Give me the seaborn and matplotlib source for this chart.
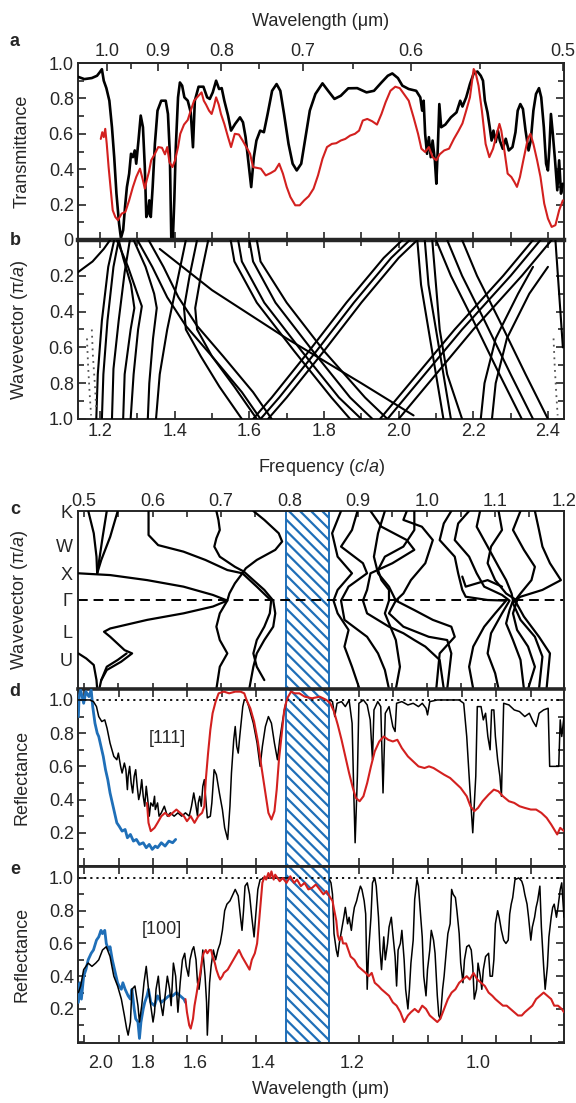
import numpy as np
import pandas as pd
import matplotlib
matplotlib.use("Agg")
import matplotlib.pyplot as plt
import seaborn as sns
from matplotlib.ticker import MultipleLocator, FixedLocator, FormatStrFormatter

# ------------------------------------------------------------------ data
# (a) transmittance versus frequency (c/a)
a_black_f = [1.141,1.158,1.178,1.192,1.199,1.205,1.210,1.217,1.225,1.232,1.238,1.244,1.251,1.256,1.262,1.267,1.272,1.278,1.283,1.288,1.293,1.297,1.303,1.309,1.315,1.320,1.324,1.328,1.332,1.336,1.341,1.347,1.354,1.364,1.376,1.382,1.387,1.391,1.395,1.399,1.403,1.409,1.414,1.420,1.426,1.435,1.443,1.449,1.454,1.464,1.477,1.487,1.494,1.502,1.511,1.519,1.526,1.533,1.543,1.551,1.562,1.575,1.583,1.590,1.598,1.605,1.612,1.619,1.629,1.639,1.649,1.661,1.673,1.683,1.693,1.705,1.716,1.727,1.739,1.749,1.762,1.777,1.796,1.811,1.828,1.845,1.865,1.889,1.914,1.934,1.954,1.971,1.983,1.998,2.010,2.027,2.047,2.058,2.063,2.067,2.071,2.076,2.081,2.086,2.091,2.097,2.101,2.105,2.109,2.114,2.125,2.140,2.155,2.165,2.171,2.181,2.191,2.201,2.211,2.220,2.226,2.231,2.238,2.244,2.249,2.254,2.260,2.266,2.271,2.279,2.287,2.295,2.305,2.313,2.319,2.326,2.333,2.340,2.348,2.354,2.361,2.368,2.376,2.382,2.389,2.395,2.400,2.404,2.408,2.413,2.419,2.425,2.430,2.435,2.440]
a_black_t = [0.922,0.909,0.915,0.928,0.947,0.965,0.900,0.858,0.787,0.637,0.468,0.262,0.093,0.010,0.056,0.187,0.299,0.374,0.487,0.468,0.506,0.431,0.562,0.703,0.637,0.412,0.130,0.149,0.224,0.130,0.299,0.543,0.731,0.787,0.787,0.712,0.487,0.0,0.0,0.224,0.524,0.806,0.890,0.872,0.806,0.787,0.721,0.524,0.787,0.866,0.866,0.806,0.797,0.834,0.900,0.853,0.858,0.787,0.703,0.618,0.656,0.693,0.665,0.581,0.431,0.299,0.468,0.562,0.618,0.609,0.712,0.843,0.881,0.843,0.712,0.543,0.431,0.393,0.431,0.562,0.731,0.825,0.885,0.843,0.797,0.815,0.857,0.858,0.834,0.843,0.890,0.928,0.941,0.915,0.872,0.853,0.843,0.806,0.731,0.787,0.600,0.487,0.581,0.468,0.562,0.450,0.318,0.525,0.768,0.637,0.652,0.693,0.721,0.787,0.754,0.806,0.881,0.941,0.952,0.928,0.900,0.787,0.721,0.637,0.562,0.618,0.553,0.618,0.562,0.515,0.572,0.506,0.525,0.609,0.731,0.768,0.740,0.618,0.506,0.562,0.731,0.825,0.858,0.806,0.637,0.431,0.393,0.525,0.712,0.600,0.450,0.281,0.450,0.262,0.318]
a_red_f = [1.202,1.206,1.210,1.214,1.218,1.223,1.229,1.234,1.241,1.248,1.258,1.268,1.278,1.288,1.297,1.307,1.315,1.320,1.325,1.331,1.337,1.347,1.356,1.366,1.374,1.380,1.386,1.394,1.401,1.409,1.415,1.425,1.435,1.443,1.452,1.464,1.472,1.478,1.484,1.492,1.499,1.505,1.511,1.518,1.524,1.533,1.543,1.551,1.561,1.572,1.582,1.592,1.602,1.610,1.619,1.631,1.644,1.657,1.669,1.680,1.690,1.700,1.710,1.723,1.735,1.747,1.759,1.772,1.784,1.796,1.808,1.821,1.833,1.845,1.857,1.870,1.883,1.894,1.904,1.916,1.929,1.942,1.954,1.965,1.978,1.991,2.003,2.014,2.027,2.040,2.052,2.061,2.071,2.081,2.091,2.101,2.110,2.122,2.135,2.148,2.160,2.171,2.181,2.191,2.197,2.201,2.206,2.214,2.223,2.233,2.243,2.253,2.263,2.270,2.275,2.282,2.292,2.302,2.310,2.317,2.325,2.334,2.346,2.353,2.361,2.371,2.380,2.390,2.400,2.410,2.420,2.430,2.440]
a_red_t = [0.571,0.609,0.581,0.628,0.543,0.412,0.281,0.168,0.130,0.112,0.149,0.159,0.224,0.299,0.356,0.403,0.337,0.290,0.337,0.384,0.450,0.487,0.525,0.521,0.484,0.525,0.440,0.412,0.450,0.525,0.600,0.652,0.678,0.731,0.787,0.815,0.834,0.787,0.765,0.731,0.712,0.753,0.806,0.765,0.712,0.656,0.581,0.525,0.600,0.596,0.562,0.525,0.487,0.412,0.408,0.403,0.365,0.378,0.393,0.431,0.375,0.300,0.243,0.196,0.196,0.224,0.247,0.290,0.365,0.459,0.525,0.543,0.547,0.562,0.571,0.590,0.600,0.618,0.675,0.684,0.671,0.652,0.712,0.778,0.843,0.866,0.858,0.825,0.787,0.693,0.600,0.516,0.497,0.525,0.468,0.450,0.484,0.506,0.516,0.571,0.615,0.659,0.731,0.806,0.900,0.966,0.947,0.872,0.731,0.543,0.468,0.516,0.600,0.656,0.618,0.525,0.375,0.356,0.328,0.300,0.356,0.450,0.571,0.600,0.543,0.450,0.356,0.206,0.121,0.074,0.084,0.168,0.224]
a_wavelength_ticks = [1.0, 0.9, 0.8, 0.7, 0.6, 0.5]
a_wavelength_minor = [0.95, 0.85, 0.75, 0.65, 0.55]
lattice_a = 1.22  # um, frequency = lattice_a / wavelength

# (b) band structure: (frequency list, wavevector list) per band
b_bands_left = [
    ([1.141,1.18,1.21,1.227], [0.18,0.12,0.05,0.0]),
    ([1.190,1.194,1.205,1.222,1.238], [1.0,0.75,0.45,0.15,0.0]),
    ([1.205,1.209,1.220,1.236,1.250], [1.0,0.75,0.45,0.15,0.0]),
    ([1.232,1.236,1.250,1.266,1.280], [1.0,0.72,0.45,0.18,0.0]),
    ([1.262,1.266,1.282,1.292,1.283,1.262,1.250], [1.0,0.75,0.5,0.38,0.25,0.1,0.0]),
    ([1.245,1.275,1.300,1.312,1.302,1.290,1.282], [0,0.15,0.3,0.37,0.5,0.75,1.0]),
    ([1.290,1.322,1.345,1.352,1.342,1.332,1.328], [0,0.15,0.3,0.38,0.55,0.8,1.0]),
]
b_bands_mid = [
    ([1.30,1.34,1.38,1.43,1.50,1.58,1.63], [0,0.15,0.32,0.48,0.65,0.85,1.0]),
    ([1.33,1.37,1.41,1.46,1.53,1.61,1.66], [0,0.15,0.32,0.48,0.65,0.85,1.0]),
    ([1.36,1.5,1.7,1.9,2.04], [0.05,0.28,0.55,0.8,0.98]),
    ([1.46,1.44,1.425,1.43,1.47,1.52,1.58], [0,0.2,0.38,0.5,0.65,0.82,1.0]),
    ([1.49,1.47,1.455,1.46,1.50,1.56,1.62], [0,0.2,0.38,0.5,0.65,0.82,1.0]),
    ([1.43,1.42,1.40,1.38,1.36,1.35], [0,0.1,0.3,0.5,0.75,1.0]),
    ([1.55,1.56,1.62,1.72,1.82,1.87], [0,0.12,0.35,0.62,0.88,1.0]),
    ([1.57,1.58,1.64,1.74,1.84,1.90], [0,0.12,0.35,0.62,0.88,1.0]),
    ([1.60,1.61,1.67,1.77,1.87,1.93], [0,0.12,0.35,0.62,0.88,1.0]),
    ([1.62,1.63,1.70,1.80,1.91,1.97], [0,0.12,0.35,0.62,0.88,1.0]),
    ([1.61,1.66,1.76,1.86,1.96,2.01], [1.0,0.88,0.62,0.35,0.1,0.0]),
    ([1.63,1.68,1.78,1.88,1.98,2.03], [1.0,0.88,0.62,0.35,0.1,0.0]),
    ([1.65,1.70,1.80,1.90,2.00,2.05], [1.0,0.88,0.62,0.35,0.1,0.0]),
]
b_bands_right = [
    ([2.05,2.06,2.08,2.10,2.12], [0,0.25,0.5,0.75,1.0]),
    ([2.07,2.08,2.10,2.12,2.14], [0,0.25,0.5,0.75,1.0]),
    ([2.09,2.10,2.11,2.13,2.17], [0,0.25,0.5,0.75,1.0]),
    ([2.10,2.14,2.20,2.27,2.33], [0,0.2,0.45,0.75,1.0]),
    ([2.13,2.17,2.23,2.30,2.36], [0,0.2,0.45,0.75,1.0]),
    ([2.17,2.21,2.27,2.34,2.40], [0,0.2,0.45,0.75,1.0]),
    ([1.95,2.05,2.15,2.28,2.36], [1.0,0.75,0.5,0.2,0.0]),
    ([1.97,2.07,2.17,2.30,2.38], [1.0,0.75,0.5,0.2,0.0]),
    ([2.00,2.10,2.20,2.33,2.41], [1.0,0.75,0.5,0.2,0.0]),
    ([2.22,2.23,2.26,2.32,2.36], [1.0,0.8,0.55,0.3,0.15]),
    ([2.25,2.26,2.29,2.35,2.40], [1.0,0.8,0.55,0.3,0.15]),
    ([2.42,2.43,2.44], [0.0,0.3,0.6]),
]
# faint dotted traces in (b)
b_dotted = [
    ([1.165,1.168,1.172,1.176], [0.55,0.7,0.85,0.98]),
    ([1.178,1.181,1.186,1.190], [0.5,0.65,0.8,0.95]),
    ([2.415,2.418,2.422,2.426], [0.55,0.7,0.85,0.98]),
]

# (c) band structure along K-W-X-Gamma-L-U, frequency (c/a)
c_path_labels = ["K", "W", "X", "Γ", "L", "U"]
c_path_pos = [0.0, 1.15, 2.1, 3.0, 4.05, 5.0]
c_bands_left = [
    ([0.506,0.514,0.518,0.519], [0,0.75,1.54,2.10]),
    ([0.533,0.527,0.522,0.519], [0,0.87,1.65,2.10]),
    ([0.549,0.538,0.525,0.519], [0,0.87,1.65,2.10]),
    ([0.4915,0.538,0.592,0.645,0.688,0.709,0.688,0.645,0.592,0.538,0.529,0.538,0.559,0.570,0.554,0.533,0.525],
     [2.10,2.16,2.33,2.55,2.83,3.02,3.22,3.45,3.67,3.96,4.07,4.24,4.69,4.80,5.08,5.36,5.70]),
    ([0.4915,0.503,0.514,0.518,0.519], [4.80,4.97,5.19,5.70,6.0]),
    ([0.562,0.549,0.533,0.525,0.522], [4.80,5.02,5.25,5.70,6.0]),
]
c_bands_mid = [
    ([0.594,0.594,0.608,0.645,0.677,0.709,0.731,0.752,0.773,0.771,0.763,0.752,0.747,0.752,0.763],
     [0,0.81,1.15,1.37,1.65,1.99,2.10,2.55,3.02,3.45,3.90,4.35,4.80,5.25,5.70]),
    ([0.693,0.696,0.698,0.693,0.690,0.698,0.720,0.733,0.747,0.763,0.776,0.779,0.776,0.763,0.752,0.747,0.741],
     [0,0.30,0.64,0.92,1.20,1.54,1.88,2.04,2.33,2.66,3.02,3.45,3.90,4.35,4.80,5.25,6.0]),
    ([0.747,0.763,0.784,0.789,0.779,0.752,0.736,0.731,0.720,0.712,0.709,0.698,0.693,0.698,0.709,0.698,0.693],
     [0,0.30,0.75,1.03,1.31,1.65,1.93,2.10,2.44,2.78,3.02,3.45,3.90,4.35,4.80,5.25,6.0]),
]
c_bands_right = [
    ([0.875,0.862,0.870,0.891,0.870,0.864,0.870,0.886,0.880,0.891,0.902], [0,0.75,1.54,2.10,2.66,3.02,3.45,4.01,4.57,5.25,6.0]),
    ([0.899,0.891,0.875,0.907,0.913,0.886,0.875,0.880,0.913,0.929,0.939,0.945], [0,0.64,1.20,1.76,2.10,2.55,3.02,3.67,4.24,4.80,5.36,6.0]),
    ([0.918,0.934,0.971,0.982,0.950,0.918,0.913,0.907,0.913,0.945,0.966,0.982,0.998,1.019,1.025], [0,0.53,0.98,1.31,1.76,2.10,2.66,3.02,3.45,3.90,4.12,4.35,4.57,5.02,6.0]),
    ([0.939,0.929,0.923,0.929,0.945,0.955,0.982,1.009,1.036,1.041,1.019,1.014], [0,0.75,1.54,2.10,2.55,3.02,3.34,3.67,3.90,4.24,4.80,6.0]),
    ([0.982,0.982,0.966,0.939,0.929,0.934,0.945,0.945,0.939,0.955,0.961,0.955], [0,0.64,1.20,1.54,1.99,2.33,2.66,3.02,3.45,4.35,5.25,6.0]),
    ([1.036,1.025,1.019,1.041,1.046,1.052,1.057,1.089,1.116,1.100,1.084,1.068,1.062,1.068], [0,0.42,0.98,1.54,2.10,2.66,2.89,3.00,3.02,3.45,3.90,4.57,5.25,6.0]),
    ([1.062,1.046,1.041,1.062,1.073,1.084,1.110,1.121,1.110,1.094,1.089,1.100,1.105], [0,0.42,0.98,1.54,2.10,2.55,2.83,3.02,3.45,4.12,4.80,5.47,6.0]),
    ([1.078,1.073,1.089,1.105,1.116,1.124,1.126,1.121,1.116,1.126,1.137,1.142], [0,0.53,1.20,1.88,2.33,2.78,3.02,3.34,3.79,4.35,5.02,6.0]),
    ([1.105,1.110,1.094,1.089,1.100,1.116,1.132,1.126,1.132,1.148,1.158,1.148], [0,0.64,1.20,1.76,2.33,2.78,3.02,3.45,4.01,4.57,5.25,6.0]),
    ([1.137,1.126,1.142,1.158,1.153,1.137,1.126,1.137,1.158,1.169,1.164], [0,0.64,1.31,1.88,2.33,2.78,3.11,3.67,4.24,4.91,6.0]),
    ([1.158,1.164,1.169,1.180,1.196,1.169,1.137,1.129,1.142,1.164,1.180,1.175], [0,0.64,1.20,1.76,2.33,2.66,2.89,3.02,3.56,4.24,4.80,6.0]),
    ([1.052,1.057,1.089,1.110], [2.21,2.55,2.33,2.55]),
    ([0.971,0.966,0.993,1.009,0.998,0.977,0.966,0.955,0.945,0.966,1.003,1.030,1.036,1.030], [0,0.30,0.53,0.98,1.76,2.33,2.78,3.02,3.45,3.90,4.24,4.35,4.80,6.0]),
]
band_c = (0.794, 0.857)           # hatched stop-band, frequency (c/a)

# (d) [111] reflectance versus inverse wavelength (1/um)
d_black_u = [0.470,0.485,0.490,0.494,0.497,0.501,0.505,0.508,0.512,0.517,0.521,0.523,0.526,0.528,0.531,0.533,0.535,0.536,0.538,0.540,0.542,0.544,0.546,0.548,0.550,0.552,0.554,0.556,0.558,0.560,0.562,0.564,0.566,0.569,0.571,0.572,0.575,0.577,0.580,0.584,0.588,0.592,0.597,0.602,0.607,0.612,0.617,0.620,0.623,0.626,0.628,0.629,0.631,0.633,0.635,0.637,0.639,0.641,0.645,0.647,0.650,0.653,0.657,0.661,0.664,0.668,0.671,0.673,0.676,0.678,0.680,0.682,0.684,0.686,0.688,0.690,0.693,0.696,0.702,0.707,0.711,0.714,0.718,0.722,0.726,0.730,0.734,0.737,0.741,0.745]
d_black_r = [1.0,1.0,0.99,0.96,0.90,0.87,0.88,0.83,0.74,0.66,0.64,0.68,0.60,0.56,0.62,0.58,0.46,0.54,0.60,0.50,0.44,0.54,0.58,0.48,0.40,0.44,0.52,0.42,0.36,0.48,0.40,0.30,0.38,0.36,0.42,0.34,0.38,0.30,0.32,0.36,0.30,0.32,0.30,0.32,0.30,0.32,0.30,0.36,0.44,0.36,0.30,0.38,0.42,0.36,0.48,0.52,0.40,0.29,0.30,0.38,0.58,0.55,0.44,0.34,0.23,0.16,0.36,0.56,0.76,0.84,0.72,0.68,0.78,0.87,0.96,1.0,1.0,0.96,0.86,0.74,0.60,0.72,0.84,0.90,0.86,0.74,0.64,0.76,0.88,0.98]
d_black2_u = [0.803,0.807,0.810,0.813,0.819,0.824,0.829,0.833,0.835,0.837,0.840,0.842,0.848,0.853,0.857,0.860,0.862,0.867,0.871,0.874,0.877,0.882,0.887,0.890,0.892,0.899,0.907,0.914,0.921,0.926,0.931,0.933,0.936,0.946,0.975,0.981,0.985,0.989,0.993,0.997,0.999,1.004,1.007,1.010,1.013,1.016,1.018,1.021,1.023,1.026,1.029,1.031,1.034,1.041,1.048,1.055,1.062,1.068,1.073,1.077,1.081,1.087,1.093,1.095,1.101,1.107,1.109,1.111,1.114]
d_black2_r = [1.0,0.99,0.90,0.98,0.99,0.96,1.0,0.86,0.48,0.14,0.54,0.98,1.0,0.97,0.88,0.64,0.94,0.99,0.96,0.44,0.92,0.96,0.84,0.81,0.98,0.99,0.97,0.98,0.96,0.98,0.95,0.91,0.99,1.0,1.0,0.98,0.78,0.48,0.20,0.54,0.96,0.96,0.88,0.92,0.78,0.70,0.94,0.94,0.78,0.64,0.54,0.42,0.98,0.97,0.94,0.93,0.90,0.92,0.87,0.84,0.92,0.94,0.95,0.60,0.60,0.60,0.88,0.78,0.90]
d_red_u = [0.561,0.563,0.566,0.571,0.575,0.580,0.585,0.590,0.595,0.600,0.605,0.610,0.614,0.619,0.624,0.629,0.634,0.637,0.639,0.642,0.645,0.648,0.652,0.656,0.663,0.670,0.678,0.685,0.690,0.693,0.698,0.703,0.708,0.713,0.718,0.722,0.726,0.730,0.733,0.736,0.740,0.743,0.747,0.752,0.757,0.763,0.770,0.780,0.790,0.799,0.804,0.809,0.814,0.819,0.824,0.829,0.834,0.838,0.843,0.848,0.853,0.858,0.863,0.869,0.875,0.881,0.887,0.893,0.899,0.907,0.914,0.921,0.929,0.935,0.941,0.948,0.955,0.963,0.970,0.977,0.985,0.990,0.995,1.000,1.006,1.014,1.021,1.027,1.033,1.041,1.048,1.055,1.062,1.070,1.077,1.084,1.091,1.097,1.101,1.105,1.109,1.114]
d_red_r = [0.38,0.26,0.21,0.23,0.26,0.30,0.32,0.30,0.32,0.34,0.32,0.30,0.27,0.30,0.26,0.30,0.32,0.36,0.52,0.68,0.82,0.92,0.99,1.04,1.05,1.04,1.05,1.05,1.04,1.00,0.95,0.87,0.75,0.59,0.44,0.32,0.28,0.33,0.46,0.64,0.81,0.94,1.01,1.05,1.04,1.04,1.02,1.01,1.02,1.00,0.98,0.93,0.85,0.76,0.66,0.56,0.47,0.41,0.39,0.42,0.50,0.60,0.69,0.75,0.78,0.76,0.75,0.76,0.71,0.66,0.63,0.60,0.59,0.60,0.59,0.57,0.55,0.53,0.50,0.47,0.42,0.36,0.33,0.35,0.39,0.43,0.46,0.45,0.42,0.39,0.38,0.36,0.35,0.34,0.34,0.32,0.29,0.25,0.22,0.19,0.23,0.21]
d_blue_u = [0.470,0.471,0.473,0.477,0.480,0.484,0.487,0.489,0.492,0.495,0.497,0.500,0.503,0.506,0.509,0.512,0.515,0.518,0.521,0.524,0.528,0.532,0.535,0.539,0.543,0.547,0.551,0.556,0.560,0.564,0.568,0.572,0.575,0.580,0.585,0.590,0.595,0.599]
d_blue_r = [0.90,1.02,1.06,0.98,1.05,1.02,1.06,0.96,0.86,0.80,0.78,0.72,0.66,0.58,0.52,0.44,0.38,0.32,0.26,0.24,0.21,0.22,0.17,0.19,0.15,0.16,0.13,0.14,0.11,0.13,0.10,0.12,0.11,0.14,0.12,0.15,0.14,0.16]

# (e) [100] reflectance versus inverse wavelength (1/um)
e_black_u = [0.470,0.473,0.477,0.483,0.488,0.493,0.497,0.502,0.507,0.512,0.517,0.522,0.527,0.531,0.534,0.536,0.539,0.541,0.545,0.549,0.551,0.554,0.557,0.560,0.563,0.566,0.569,0.571,0.573,0.576,0.579,0.582,0.585,0.588,0.591,0.593,0.596,0.599,0.602,0.605,0.608,0.611,0.613,0.616,0.618,0.621,0.623,0.626,0.628,0.630,0.633,0.635,0.638,0.640,0.641,0.644,0.646,0.649,0.652,0.655,0.658,0.661,0.664,0.667,0.671,0.675,0.678,0.682,0.685,0.687,0.689,0.691,0.694,0.697,0.700,0.703,0.705,0.708,0.711,0.717,0.736,0.746]
e_black_r = [0.30,0.34,0.44,0.48,0.46,0.48,0.50,0.56,0.58,0.52,0.40,0.34,0.26,0.16,0.08,0.04,0.12,0.32,0.34,0.22,0.12,0.22,0.36,0.46,0.32,0.22,0.12,0.18,0.32,0.40,0.24,0.16,0.28,0.40,0.32,0.22,0.48,0.40,0.18,0.36,0.50,0.54,0.46,0.40,0.50,0.56,0.58,0.50,0.36,0.32,0.44,0.56,0.40,0.24,0.04,0.36,0.46,0.56,0.50,0.56,0.60,0.68,0.80,0.84,0.86,0.90,0.93,0.89,0.76,0.68,0.80,0.95,0.97,0.90,0.76,0.64,0.76,0.93,0.99,1.0,1.0,1.0]
e_black2_u = [0.803,0.805,0.807,0.809,0.812,0.814,0.816,0.819,0.822,0.824,0.827,0.829,0.832,0.834,0.836,0.839,0.841,0.844,0.846,0.849,0.851,0.853,0.855,0.858,0.860,0.863,0.865,0.868,0.870,0.872,0.875,0.877,0.880,0.882,0.885,0.887,0.890,0.892,0.894,0.897,0.899,0.902,0.904,0.907,0.909,0.911,0.914,0.916,0.919,0.921,0.924,0.926,0.928,0.931,0.933,0.936,0.938,0.941,0.943,0.946,0.948,0.950,0.953,0.955,0.958,0.960,0.963,0.965,0.967,0.970,0.972,0.975,0.977,0.980,0.982,0.985,0.988,0.991,0.993,0.995,0.998,1.000,1.003,1.005,1.007,1.010,1.014,1.016,1.019,1.021,1.023,1.026,1.028,1.031,1.034,1.037,1.040,1.042,1.044,1.046,1.049,1.054,1.058,1.060,1.062,1.065,1.067,1.070,1.072,1.075,1.077,1.079,1.082,1.084,1.087,1.089,1.092,1.094,1.097,1.099,1.101,1.104,1.106,1.109,1.111,1.114]
e_black2_r = [0.99,0.97,0.90,0.66,0.56,0.52,0.60,0.68,0.76,0.82,0.72,0.76,0.68,0.76,0.82,0.86,0.90,0.95,0.93,0.86,0.78,0.32,0.56,0.76,0.97,1.0,0.95,0.76,0.56,0.44,0.64,0.50,0.60,0.70,0.76,0.66,0.52,0.34,0.56,0.60,0.68,0.50,0.32,0.20,0.32,0.48,0.62,0.87,0.99,0.95,0.76,0.64,0.40,0.28,0.44,0.56,0.68,0.62,0.54,0.28,0.16,0.14,0.32,0.40,0.56,0.66,0.72,0.93,0.90,0.88,0.80,0.66,0.48,0.36,0.50,0.58,0.59,0.56,0.46,0.26,0.32,0.48,0.40,0.32,0.44,0.52,0.54,0.40,0.40,0.50,0.72,0.80,0.76,0.68,0.62,0.60,0.62,0.78,0.84,0.88,0.99,1.0,0.98,0.95,0.90,0.84,0.76,0.62,0.70,0.76,0.82,0.86,0.95,0.70,0.46,0.32,0.46,0.64,0.76,0.82,0.84,0.76,0.82,0.93,0.97,0.76]
e_red_u = [0.612,0.614,0.617,0.619,0.622,0.624,0.627,0.629,0.631,0.634,0.636,0.639,0.641,0.644,0.646,0.648,0.651,0.653,0.656,0.658,0.661,0.663,0.668,0.673,0.678,0.683,0.687,0.692,0.697,0.700,0.702,0.704,0.707,0.709,0.712,0.714,0.717,0.719,0.722,0.724,0.726,0.729,0.731,0.734,0.737,0.741,0.746,0.751,0.756,0.760,0.765,0.770,0.775,0.780,0.785,0.790,0.795,0.799,0.804,0.807,0.809,0.812,0.814,0.816,0.819,0.821,0.825,0.828,0.831,0.836,0.841,0.846,0.851,0.855,0.859,0.863,0.868,0.872,0.877,0.882,0.887,0.892,0.897,0.902,0.907,0.911,0.916,0.921,0.926,0.931,0.936,0.941,0.946,0.950,0.955,0.960,0.965,0.970,0.975,0.980,0.985,0.989,0.994,0.999,1.004,1.009,1.014,1.019,1.023,1.028,1.033,1.038,1.043,1.048,1.053,1.058,1.062,1.067,1.072,1.077,1.082,1.087,1.092,1.097,1.101,1.106,1.111,1.114]
e_red_r = [0.26,0.18,0.10,0.08,0.14,0.22,0.30,0.36,0.40,0.50,0.54,0.56,0.54,0.56,0.56,0.52,0.48,0.44,0.40,0.38,0.40,0.42,0.44,0.48,0.52,0.56,0.52,0.48,0.44,0.50,0.52,0.54,0.60,0.70,0.86,0.97,1.01,0.99,1.03,1.0,1.04,0.99,1.02,1.0,0.98,1.0,0.97,1.01,0.97,0.99,0.95,0.97,0.93,0.94,0.96,0.93,0.90,0.92,0.88,0.86,0.81,0.74,0.65,0.62,0.64,0.60,0.60,0.56,0.52,0.50,0.46,0.44,0.42,0.40,0.42,0.36,0.34,0.32,0.30,0.28,0.24,0.22,0.18,0.12,0.16,0.18,0.20,0.18,0.22,0.20,0.16,0.14,0.12,0.14,0.20,0.26,0.30,0.32,0.36,0.38,0.40,0.38,0.42,0.38,0.36,0.34,0.30,0.28,0.26,0.24,0.22,0.22,0.20,0.18,0.16,0.16,0.18,0.20,0.22,0.26,0.28,0.30,0.28,0.26,0.22,0.22,0.20,0.18]
e_blue_u = [0.470,0.472,0.474,0.477,0.480,0.483,0.487,0.490,0.494,0.497,0.500,0.502,0.505,0.507,0.510,0.512,0.515,0.517,0.519,0.522,0.524,0.527,0.529,0.532,0.534,0.536,0.539,0.541,0.544,0.546,0.549,0.551,0.553,0.556,0.558,0.561,0.563,0.566,0.571,0.575,0.580,0.585,0.590,0.595,0.600,0.605,0.610,0.612]
e_blue_r = [0.24,0.36,0.26,0.40,0.44,0.50,0.54,0.56,0.62,0.64,0.68,0.66,0.68,0.60,0.56,0.58,0.50,0.46,0.42,0.36,0.34,0.32,0.36,0.32,0.30,0.28,0.26,0.32,0.20,0.14,0.12,0.02,0.12,0.20,0.24,0.28,0.32,0.24,0.22,0.28,0.24,0.26,0.28,0.28,0.30,0.28,0.26,0.24]

de_wavelength_ticks = [2.0, 1.8, 1.6, 1.4, 1.2, 1.0]
# inverse-wavelength (1/um) to panel-c frequency relation
de_scale, de_offset = 1.0975, -0.0243

# ------------------------------------------------------------------ style
RED = "#d3201f"
BLUE = "#1f6fb8"
sns.set_theme(style="ticks")
plt.rcParams["font.family"] = ["Liberation Sans", "DejaVu Sans"]
plt.rcParams["mathtext.fontset"] = "custom"
plt.rcParams["mathtext.rm"] = "Liberation Sans"
plt.rcParams["mathtext.it"] = "Liberation Sans:italic"
plt.rcParams["hatch.linewidth"] = 1.6
plt.rcParams["hatch.color"] = BLUE
plt.rcParams["axes.linewidth"] = 1.4
FS = 13

W, H = 576, 1103
fig = plt.figure(figsize=(W / 100, H / 100), dpi=100)


def add_ax(top, bottom):
    return fig.add_axes([78 / W, 1 - bottom / H, 486 / W, (bottom - top) / H])


ax_a = add_ax(63, 240)
ax_b = add_ax(240, 419)
ax_c = add_ax(511, 689)
ax_d = add_ax(689, 866)
ax_e = add_ax(866, 1043)


def draw(ax, x, y, color="black", lw=1.6, z=3, ls="-"):
    sns.lineplot(x=x, y=y, ax=ax, sort=False, estimator=None, color=color,
                 linewidth=lw, legend=False, zorder=z, linestyle=ls)


def ticks_in(ax, **kw):
    ax.tick_params(which="both", direction="in", labelsize=FS, width=1.2, pad=3, **kw)
    ax.tick_params(which="major", length=6)
    ax.tick_params(which="minor", length=4)


# ---- (a)
draw(ax_a, a_black_f, a_black_t, "black", 1.9)
draw(ax_a, a_red_f, a_red_t, RED, 1.5)
ax_a.set_xlim(1.141, 2.443)
ax_a.set_ylim(0, 1.0)
ax_a.xaxis.set_major_locator(MultipleLocator(0.1))
ax_a.set_yticks([0.2, 0.4, 0.6, 0.8, 1.0], labels=["0.2", "0.4", "0.6", "0.8", "1.0"])
ax_a.yaxis.set_minor_locator(MultipleLocator(0.1))
ax_a.set_ylim(0, 1.0)
ticks_in(ax_a, right=True, top=False, labelbottom=False)
ax_a.set_xlabel("")
ax_a.set_ylabel("Transmittance", fontsize=FS)
ax_a.yaxis.set_label_coords(-0.098, 0.5)
sec = ax_a.secondary_xaxis("top")
sec.set_xticks([lattice_a / w for w in a_wavelength_ticks],
               labels=[f"{w:.1f}" for w in a_wavelength_ticks])
sec.set_xticks([lattice_a / w for w in a_wavelength_minor], minor=True)
sec.tick_params(which="both", direction="in", labelsize=FS, width=1.2, pad=2)
sec.tick_params(which="major", length=6)
sec.tick_params(which="minor", length=4)
fig.text(321 / W, 1 - 22 / H, "Wavelength (μm)", fontsize=FS, ha="center", va="center")

# ---- (b)
for fl, kl in b_bands_left + b_bands_mid + b_bands_right:
    draw(ax_b, fl, kl, "black", 1.5)
for fl, kl in b_dotted:
    draw(ax_b, fl, kl, "#555555", 1.3, ls=(0, (1, 2.5)))
ax_b.set_xticks([1.2, 1.4, 1.6, 1.8, 2.0, 2.2, 2.4],
                labels=["1.2", "1.4", "1.6", "1.8", "2.0", "2.2", "2.4"])
ax_b.xaxis.set_minor_locator(MultipleLocator(0.1))
ax_b.set_yticks([0, 0.2, 0.4, 0.6, 0.8, 1.0], labels=["0", "0.2", "0.4", "0.6", "0.8", "1.0"])
ax_b.yaxis.set_minor_locator(MultipleLocator(0.1))
ax_b.set_xlim(1.141, 2.443)
ax_b.set_ylim(1.0, 0.0)
ticks_in(ax_b, right=True, top=True)
ax_b.spines["top"].set_linewidth(3.2)
ax_b.set_xlabel("")
ax_b.set_ylabel("Wavevector (π/$a$)", fontsize=FS)
ax_b.yaxis.set_label_coords(-0.098, 0.5)
fig.text(321 / W, 1 - 468 / H, "Frequency ($c$/$a$)", fontsize=FS, ha="center", va="center")

# ---- (c)
ax_c.axvspan(band_c[0], band_c[1], facecolor="white", edgecolor=BLUE,
             hatch="\\" * 3, linewidth=1.4, zorder=1)
ax_c.axhline(c_path_pos[3], color="black", lw=1.4, ls=(0, (5, 3)), zorder=2)
for fl, sl in c_bands_left + c_bands_mid + c_bands_right:
    draw(ax_c, fl, sl, "black", 1.6)
ax_c.set_xticks([0.5, 0.6, 0.7, 0.8, 0.9, 1.0, 1.1, 1.2],
                labels=["0.5", "0.6", "0.7", "0.8", "0.9", "1.0", "1.1", "1.2"])
ax_c.xaxis.set_minor_locator(MultipleLocator(0.05))
ax_c.set_yticks(c_path_pos, labels=c_path_labels)
ax_c.set_xlim(0.491, 1.2005)
ax_c.set_ylim(6.0, 0.0)
ticks_in(ax_c, top=True, bottom=True, labeltop=True, labelbottom=False)
ax_c.tick_params(axis="y", which="both", length=0, pad=4)
ax_c.tick_params(axis="x", which="major", length=4, pad=1)
ax_c.set_xlabel("")
ax_c.set_ylabel("Wavevector (π/$a$)", fontsize=FS)
ax_c.yaxis.set_label_coords(-0.098, 0.5)


# ---- (d) and (e)
def setup_refl(ax, tag, tag_xy, show_labels):
    lo = (band_c[0] - de_offset) / de_scale
    hi = (band_c[1] - de_offset) / de_scale
    ax.axvspan(lo, hi, facecolor="white", edgecolor=BLUE, hatch="\\" * 3,
               linewidth=1.4, zorder=1)
    ax.axhline(1.0, color="black", lw=1.3, ls=(0, (1.2, 2.2)), zorder=2)
    ax.set_yticks([0.2, 0.4, 0.6, 0.8, 1.0], labels=["0.2", "0.4", "0.6", "0.8", "1.0"])
    ax.yaxis.set_minor_locator(MultipleLocator(0.1))
    ax.set_xticks([1 / w for w in de_wavelength_ticks],
                  labels=[f"{w:.1f}" for w in de_wavelength_ticks] if show_labels else [])
    minor = [(f - de_offset) / de_scale for f in np.arange(0.50, 1.201, 0.05)]
    ax.set_xticks(minor, minor=True)
    ax.set_xlim(0.4695, 1.114)
    ticks_in(ax, top=True, right=True, labelbottom=show_labels)
    ax.tick_params(axis="x", which="major", length=0, pad=9)
    ax.tick_params(axis="x", which="minor", length=6)
    ax.set_xlabel("")
    ax.set_ylabel("Reflectance", fontsize=FS)
    ax.yaxis.set_label_coords(-0.098, 0.5)
    ax.text(tag_xy[0], tag_xy[1], tag, transform=ax.transAxes,
            fontsize=FS, ha="center", va="center")


setup_refl(ax_d, "[111]", (0.183, 0.72), False)
draw(ax_d, d_blue_u, d_blue_r, BLUE, 2.0)
draw(ax_d, d_black_u, d_black_r, "black", 1.1)
draw(ax_d, d_black2_u, d_black2_r, "black", 1.1)
draw(ax_d, d_red_u, d_red_r, RED, 1.5, 4)
ax_d.set_ylim(0.0, 1.066)
ax_d.spines["top"].set_linewidth(2.6)
ax_d.set_xlabel("")

setup_refl(ax_e, "[100]", (0.173, 0.64), True)
draw(ax_e, e_blue_u, e_blue_r, BLUE, 2.0)
draw(ax_e, e_black_u, e_black_r, "black", 1.1)
draw(ax_e, e_black2_u, e_black2_r, "black", 1.1)
draw(ax_e, e_red_u, e_red_r, RED, 1.5, 4)
ax_e.set_ylim(-0.008, 1.073)
ax_e.spines["top"].set_linewidth(2.0)
ax_e.set_xlabel("")
fig.text(321 / W, 1 - 1090 / H, "Wavelength (μm)", fontsize=FS, ha="center", va="center")

for letter, ypix in [("a", 42), ("b", 240), ("c", 510), ("d", 692), ("e", 870)]:
    fig.text(15 / W, 1 - ypix / H, letter, fontsize=13, fontweight="bold",
             ha="center", va="center")

fig.savefig("out.png", dpi=100)
